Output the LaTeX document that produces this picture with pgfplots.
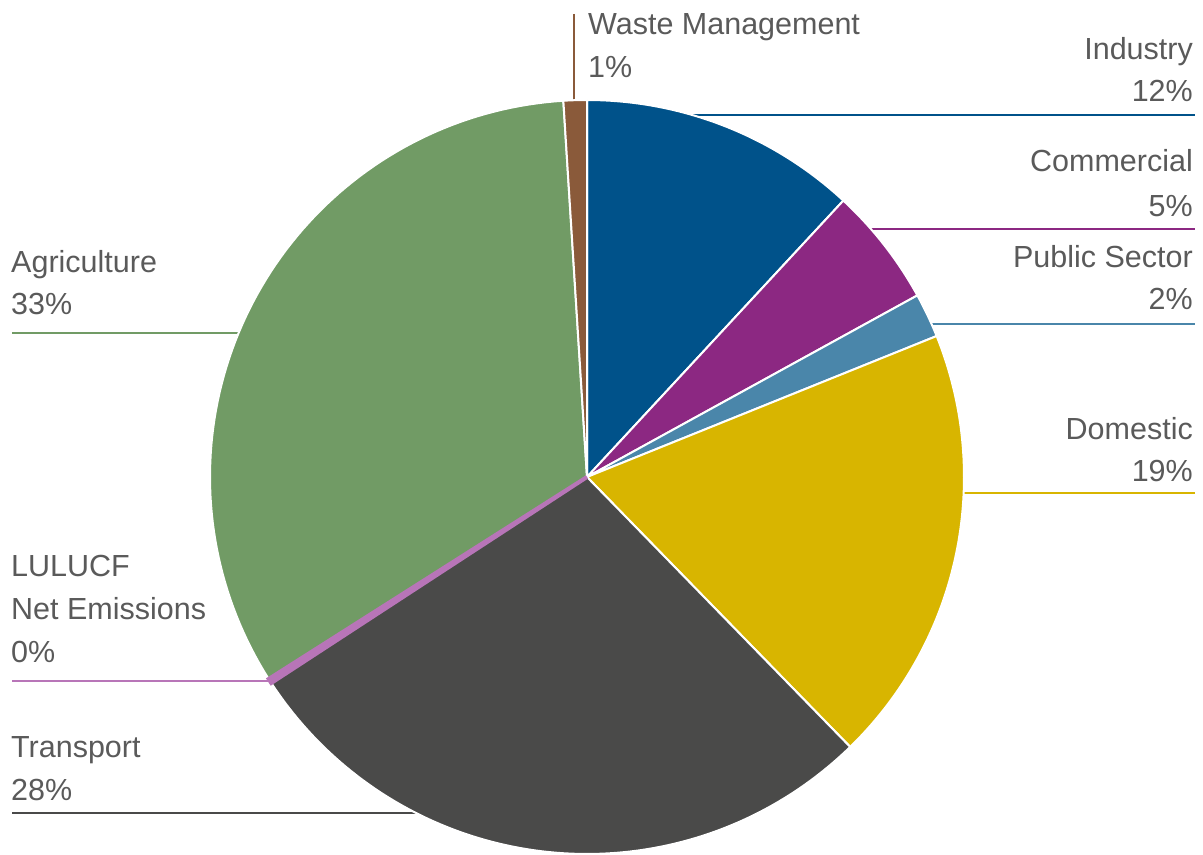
\documentclass[border=0pt]{standalone}
\usepackage{pgfplots}
\pgfplotsset{compat=1.18}
\usepackage{fontspec}
\setmainfont{Liberation Sans}
\definecolor{cInd}{HTML}{00528A}
\definecolor{cCom}{HTML}{8C2882}
\definecolor{cPub}{HTML}{4A86AA}
\definecolor{cDom}{HTML}{D8B500}
\definecolor{cTra}{HTML}{4A4A49}
\definecolor{cLul}{HTML}{B875B8}
\definecolor{cAgr}{HTML}{719B65}
\definecolor{cWas}{HTML}{8A5A3A}
\definecolor{txt}{HTML}{5A5A5A}
% shares in percent (clockwise from 12 o'clock)
\def\vInd{11.9}
\def\vCom{5.1}
\def\vPub{1.9}
\def\vDom{18.8}
\def\vTra{28.1}
\def\vLul{0.2}
\def\vAgr{33.0}
\def\vWas{1.0}
\pgfmathsetmacro{\aA}{90}
\pgfmathsetmacro{\aB}{\aA-3.6*\vInd}
\pgfmathsetmacro{\aC}{\aB-3.6*\vCom}
\pgfmathsetmacro{\aD}{\aC-3.6*\vPub}
\pgfmathsetmacro{\aE}{\aD-3.6*\vDom}
\pgfmathsetmacro{\aF}{\aE-3.6*\vTra}
\pgfmathsetmacro{\aG}{\aF-3.6*\vLul}
\pgfmathsetmacro{\aH}{\aG-3.6*\vAgr}
\pgfmathsetmacro{\aHw}{\aH+360}
\pgfmathsetmacro{\aIw}{\aHw-3.6*\vWas}
\newcommand{\sector}[3]{%
  \addplot[fill=#1, draw=white, line width=2pt, line join=round, domain=#3:#2, samples=90, variable=\t]
    ({587+377*cos(\t)}, {372+377*sin(\t)}) -- (axis cs:587,372) -- cycle;
}
\tikzset{lbl/.style={inner sep=0pt, text=txt, font=\fontsize{30.5}{43}\selectfont}}
\begin{document}
\begin{tikzpicture}
\begin{axis}[x=1pt, y=1pt, xmin=0, xmax=1203, ymin=0, ymax=849, hide axis, clip=false]
\path (axis cs:0,0) rectangle (axis cs:1203,849);
% leader lines (under the pie)
\addplot[cWas, line width=2.5pt, no marks] coordinates {(574,835) (574,730)};
\addplot[cInd, line width=2.5pt, no marks] coordinates {(600,734) (1195,734)};
\addplot[cCom, line width=2.5pt, no marks] coordinates {(800,620) (1195,620)};
\addplot[cPub, line width=2.5pt, no marks] coordinates {(850,525) (1195,525)};
\addplot[cDom, line width=2.5pt, no marks] coordinates {(850,356) (1195,356)};
\addplot[cAgr, line width=2.5pt, no marks] coordinates {(12,516) (320,516)};
\addplot[cLul, line width=2.5pt, no marks] coordinates {(12,168) (275,168)};
\addplot[cTra, line width=2.5pt, no marks] coordinates {(12,36) (500,36)};
% pie
\sector{cInd}{\aA}{\aB}
\sector{cCom}{\aB}{\aC}
\sector{cPub}{\aC}{\aD}
\sector{cDom}{\aD}{\aE}
\sector{cTra}{\aE}{\aF}
\sector{cAgr}{\aG}{\aH}
\sector{cWas}{\aHw}{\aIw}
\addplot[fill=cLul, draw=cLul, line width=4pt, domain=\aG:\aF, samples=5, variable=\t]
  ({587+377*cos(\t)}, {372+377*sin(\t)}) -- (axis cs:587,372) -- cycle;
% labels
\node[lbl, anchor=base west] at (axis cs:588,814) {Waste Management};
\node[lbl, anchor=base west] at (axis cs:588,771) {1\%};
\node[lbl, anchor=base east] at (axis cs:1193,789) {Industry};
\node[lbl, anchor=base east] at (axis cs:1193,747) {12\%};
\node[lbl, anchor=base east] at (axis cs:1193,677) {Commercial};
\node[lbl, anchor=base east] at (axis cs:1193,632) {5\%};
\node[lbl, anchor=base east] at (axis cs:1193,581) {Public Sector};
\node[lbl, anchor=base east] at (axis cs:1193,539) {2\%};
\node[lbl, anchor=base east] at (axis cs:1193,409) {Domestic};
\node[lbl, anchor=base east] at (axis cs:1193,367) {19\%};
\node[lbl, anchor=base west] at (axis cs:11,576) {Agriculture};
\node[lbl, anchor=base west] at (axis cs:11,534) {33\%};
\node[lbl, anchor=base west] at (axis cs:11,272) {LULUCF};
\node[lbl, anchor=base west] at (axis cs:11,229) {Net Emissions};
\node[lbl, anchor=base west] at (axis cs:11,186) {0\%};
\node[lbl, anchor=base west] at (axis cs:11,91) {Transport};
\node[lbl, anchor=base west] at (axis cs:11,48) {28\%};
\end{axis}
\end{tikzpicture}
\end{document}
